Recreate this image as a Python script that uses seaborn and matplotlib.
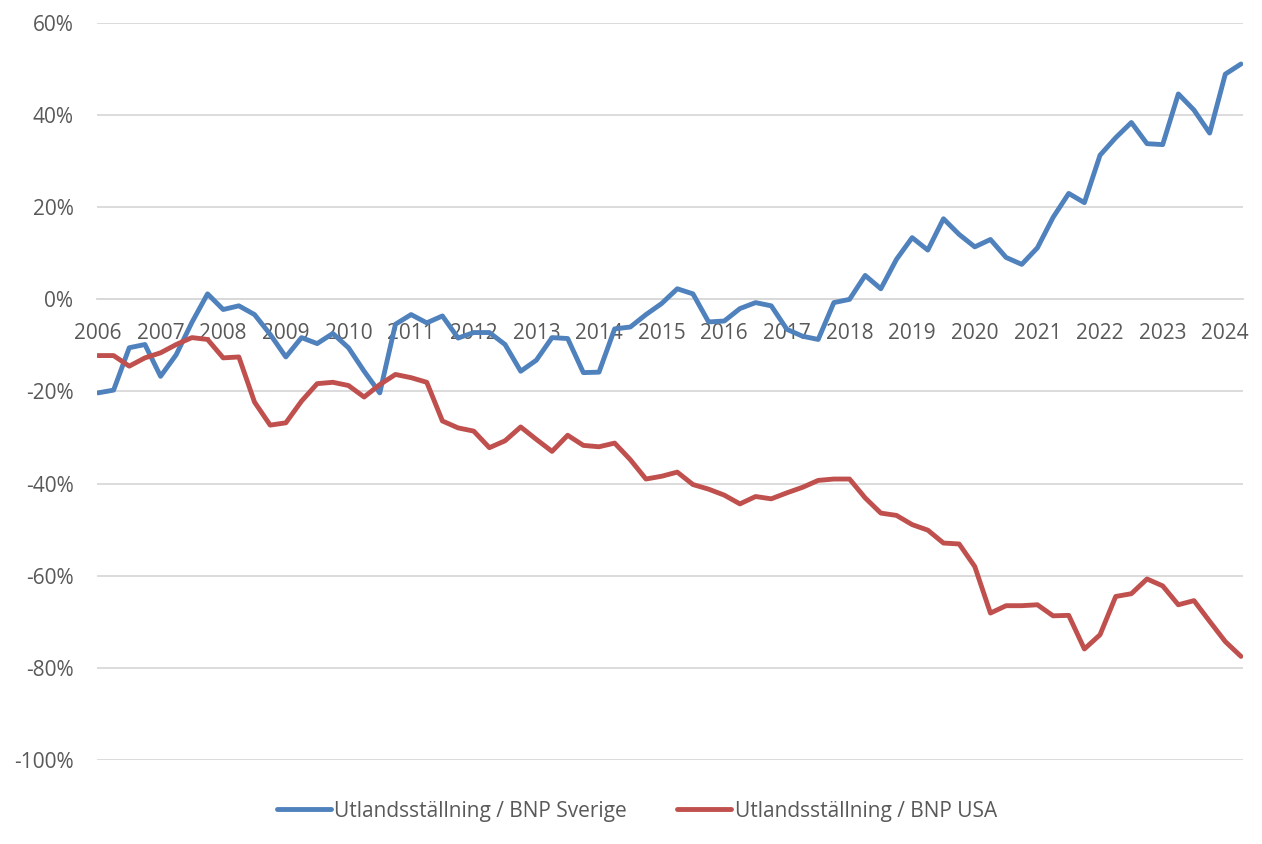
import numpy as np
import pandas as pd
import matplotlib
matplotlib.use("Agg")
import matplotlib.pyplot as plt
import seaborn as sns
from matplotlib.lines import Line2D

# Quarterly data 2006Q1 .. 2024Q2 (percent)
quarters = pd.period_range("2006Q1", "2024Q2", freq="Q").astype(str).tolist()

sverige = [
    -20.3, -19.7, -10.5, -9.8, -16.7, -12.0, -5.0, 1.2,
    -2.2, -1.4, -3.3, -7.6, -12.5, -8.3, -9.6, -7.4,
    -10.5, -15.6, -20.3, -5.4, -3.3, -5.1, -3.6, -8.4,
    -7.2, -7.2, -9.8, -15.6, -13.2, -8.3, -8.5, -15.9,
    -15.8, -6.4, -6.0, -3.3, -0.9, 2.3, 1.2, -4.9,
    -4.7, -2.0, -0.7, -1.4, -6.5, -8.0, -8.7, -0.7,
    0.0, 5.2, 2.3, 8.7, 13.4, 10.7, 17.5, 14.1,
    11.4, 13.0, 9.1, 7.6, 11.2, 17.8, 23.0, 21.0,
    31.3, 35.1, 38.4, 33.8, 33.6, 44.6, 41.1, 36.1,
    48.9, 51.1,
]

usa = [
    -12.2, -12.2, -14.5, -12.7, -11.6, -9.8, -8.3, -8.7,
    -12.7, -12.5, -22.3, -27.3, -26.8, -22.1, -18.3, -18.0,
    -18.7, -21.2, -18.5, -16.3, -17.0, -18.0, -26.4, -27.9,
    -28.6, -32.2, -30.7, -27.7, -30.4, -33.0, -29.5, -31.7,
    -32.0, -31.2, -34.8, -39.0, -38.4, -37.5, -40.2, -41.2,
    -42.5, -44.4, -42.8, -43.3, -42.0, -40.8, -39.3, -39.0,
    -39.0, -43.1, -46.4, -46.9, -48.9, -50.1, -52.9, -53.1,
    -58.0, -68.1, -66.5, -66.5, -66.3, -68.7, -68.6, -75.9,
    -72.8, -64.5, -63.9, -60.7, -62.2, -66.3, -65.4, -69.9,
    -74.3, -77.5,
]

series_names = ["Utlandsställning / BNP Sverige", "Utlandsställning / BNP USA"]
series_colors = ["#4f81bd", "#c0504d"]
year_labels = [str(y) for y in range(2006, 2025)]
y_ticks = [60, 40, 20, 0, -20, -40, -60, -80, -100]

idx = list(range(len(quarters)))
df = pd.DataFrame({
    "i": idx * 2,
    "value": sverige + usa,
    "serie": [series_names[0]] * len(idx) + [series_names[1]] * len(idx),
})

sns.set_theme(style="white")
plt.rcParams["font.family"] = ["Open Sans", "DejaVu Sans"]

W, H = 1262, 844
fig = plt.figure(figsize=(W / 100, H / 100), dpi=100)
ax = fig.add_axes([97 / W, 1 - 760 / H, (1243 - 97) / W, (760 - 23) / H])

LW = 3.5
sns.lineplot(data=df, x="i", y="value", hue="serie", palette=series_colors,
             linewidth=LW, ax=ax, legend=False, zorder=3,
             solid_capstyle="round", solid_joinstyle="round")

ax.set_xlim(-0.06, 73.13)
ax.set_ylim(-100, 60)
ax.set_axisbelow(True)

grid_col = "#d9d9d9"
text_col = "#595959"
FS = 15
ax.set_yticks(y_ticks)
ax.set_yticklabels([f"{v}%" for v in y_ticks])
ax.grid(axis="y", color=grid_col, linewidth=1.3)
ax.grid(axis="x", visible=False)

ax.set_xticks(list(range(0, len(quarters), 4)))
ax.set_xticklabels(year_labels)

for s in ["top", "right", "left"]:
    ax.spines[s].set_visible(False)
ax.spines["bottom"].set_position(("data", 0))
ax.spines["bottom"].set_color(grid_col)
ax.spines["bottom"].set_linewidth(1.3)

ax.tick_params(axis="y", length=0, pad=17, labelsize=FS, labelcolor=text_col)
ax.tick_params(axis="x", direction="out", length=5, width=1.3, color=grid_col,
               pad=12, labelsize=FS, labelcolor=text_col)
ax.set_xlabel("")
ax.set_ylabel("")

handles = [Line2D([0], [0], color=c, linewidth=LW, solid_capstyle="round") for c in series_colors]
fig.legend(handles, series_names, loc="center", bbox_to_anchor=(637 / W, 1 - 811 / H),
           ncol=2, frameon=False, fontsize=FS, labelcolor=text_col,
           handlelength=2.6, handletextpad=0.15, columnspacing=2.4)

fig.savefig("out.png", dpi=100, facecolor="white")
